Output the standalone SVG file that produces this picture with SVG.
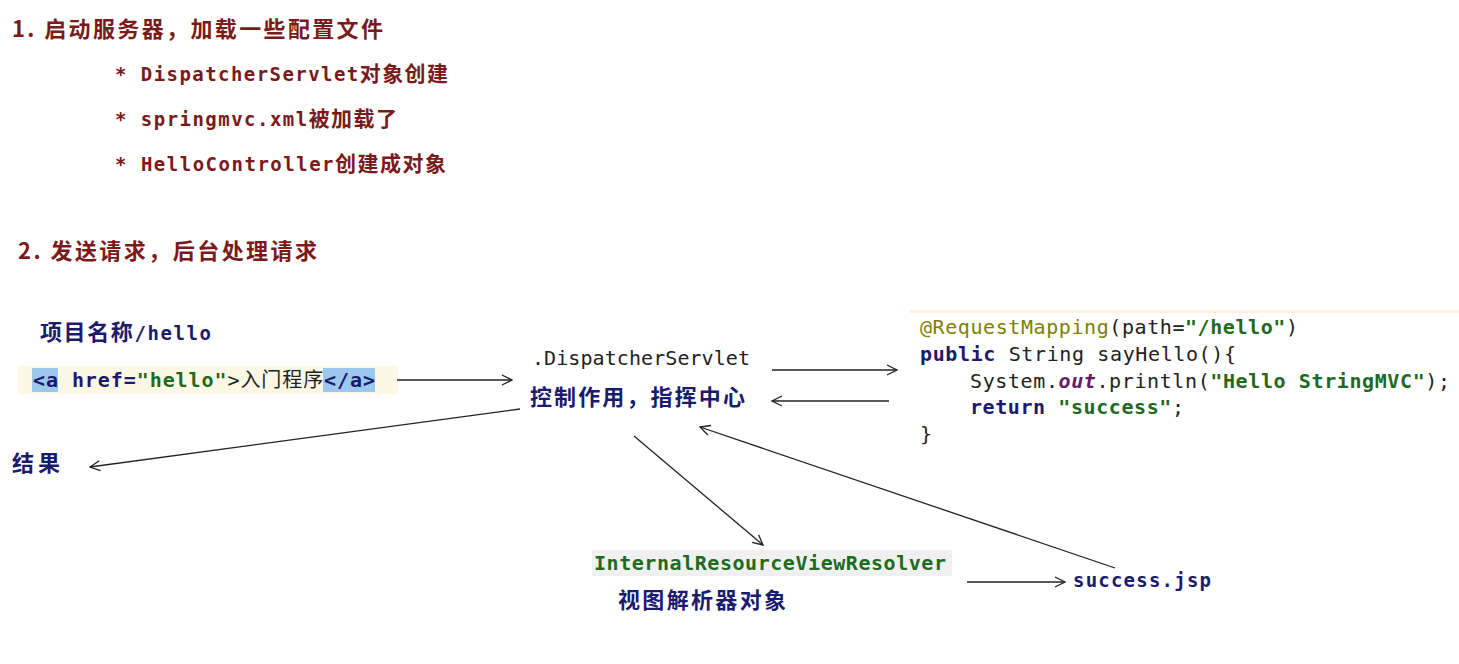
<svg xmlns="http://www.w3.org/2000/svg" width="1459" height="664" viewBox="0 0 1459 664">
<style>
.h{font-family:"Noto Sans CJK SC",sans-serif;font-weight:bold;font-size:22px;fill:#7a1a1a}
.m{font-family:"DejaVu Sans Mono","Noto Sans CJK SC",monospace;font-weight:bold;font-size:19px;fill:#7a1a1a}
.b{font-family:"DejaVu Sans Mono","Noto Sans CJK SC",monospace;font-weight:bold;font-size:19px;fill:#1a1a6e}
.c{font-family:"DejaVu Sans Mono","Noto Sans CJK SC",monospace;font-size:20px;fill:#222}
.kw{fill:#1a1a6e;font-weight:bold}
.s{fill:#1e6a1e;font-weight:bold}
.cn{font-family:"Noto Sans CJK SC",sans-serif;font-weight:bold;font-size:22px;fill:#1a1a6e}
line{stroke:#222;stroke-width:1.3;fill:none}
</style>
<defs><marker id="a" viewBox="0 0 12 12" refX="11" refY="6" markerWidth="12" markerHeight="12" markerUnits="userSpaceOnUse" orient="auto"><polyline points="1,1 11,6 1,11" fill="none" stroke="#222" stroke-width="1.3"/></marker></defs>
<rect width="1459" height="664" fill="#fff"/>
<text class="h" x="12" y="37" textLength="371">1. 启动服务器，加载一些配置文件</text>
<text class="m" x="115" y="81" textLength="333">* DispatcherServlet<tspan font-family="Noto Sans CJK SC" font-size="21">对象创建</tspan></text>
<text class="m" x="115" y="126" textLength="282">* springmvc.xml<tspan font-family="Noto Sans CJK SC" font-size="21">被加载了</tspan></text>
<text class="m" x="115" y="171" textLength="331">* HelloController<tspan font-family="Noto Sans CJK SC" font-size="21">创建成对象</tspan></text>
<text class="h" x="18" y="259" textLength="299">2. 发送请求，后台处理请求</text>
<g id="n1"><text class="cn" x="40" y="340" textLength="171">项目名称<tspan font-family="DejaVu Sans Mono" font-size="19">/hello</tspan></text></g>
<g id="n2"><rect x="18" y="366" width="380" height="28" fill="#fdf8e6"/><rect x="32" y="368" width="26" height="24" fill="#9cc8ee"/><rect x="323" y="368" width="52" height="24" fill="#9cc8ee"/>
<text class="c" x="33" y="387" textLength="342"><tspan class="kw">&lt;a</tspan> <tspan class="kw">href=</tspan><tspan class="s">"hello"</tspan>&gt;<tspan font-family="Noto Sans CJK SC">入门程序</tspan><tspan class="kw">&lt;/a&gt;</tspan></text></g>
<g id="n3"><text class="c" x="532" y="365" textLength="218">.DispatcherServlet</text><text class="cn" x="530" y="405" textLength="215">控制作用，指挥中心</text></g>
<g id="n4"><rect x="910" y="310" width="549" height="3" fill="#fdf3dc"/>
<text class="c" x="920" y="334" textLength="378"><tspan fill="#808000">@RequestMapping</tspan>(path=<tspan class="s">"/hello"</tspan>)</text>
<text class="c" x="920" y="361" textLength="316"><tspan class="kw">public</tspan> String sayHello(){</text>
<text class="c" x="970" y="388" textLength="480">System.<tspan fill="#6a1a6a" font-style="italic" font-weight="bold">out</tspan>.println(<tspan class="s">"Hello StringMVC"</tspan>);</text>
<text class="c" x="970" y="414" textLength="214"><tspan class="kw">return</tspan> <tspan class="s">"success"</tspan>;</text>
<text class="c" x="920" y="441">}</text></g>
<g id="n5"><text class="cn" x="12" y="471" textLength="48">结果</text></g>
<g id="n6"><rect x="592" y="550" width="360" height="26" fill="#f0f0f0"/><text class="c s" x="594" y="570" textLength="352">InternalResourceViewResolver</text><text class="cn" x="618" y="608" textLength="168">视图解析器对象</text></g>
<g id="n7"><text class="b" x="1073" y="587" textLength="138">success.jsp</text></g>
<g id="edges">
<line x1="397" y1="380" x2="512" y2="380" marker-end="url(#a)"/>
<line x1="772" y1="370" x2="897" y2="370" marker-end="url(#a)"/>
<line x1="889" y1="401" x2="772" y2="401" marker-end="url(#a)"/>
<line x1="520" y1="409" x2="90" y2="467" marker-end="url(#a)"/>
<line x1="634" y1="436" x2="763" y2="545" marker-end="url(#a)"/>
<line x1="1115" y1="568" x2="700" y2="427" marker-end="url(#a)"/>
<line x1="967" y1="582" x2="1065" y2="582" marker-end="url(#a)"/>
</g>
</svg>
